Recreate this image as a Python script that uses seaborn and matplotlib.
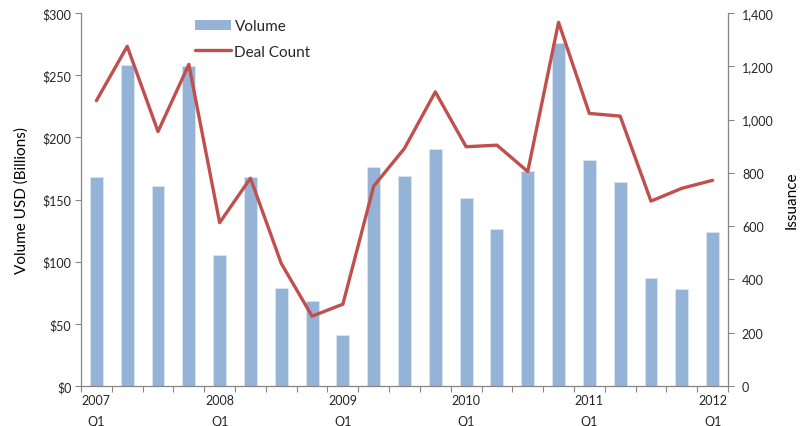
import matplotlib
matplotlib.use("Agg")
import matplotlib.pyplot as plt
import seaborn as sns
import pandas as pd
import numpy as np
from matplotlib.patches import Patch
from matplotlib.lines import Line2D
from matplotlib.ticker import FixedLocator, FuncFormatter

quarters = [f"{y} Q{q}" for y in range(2007, 2012) for q in range(1, 5)] + ["2012 Q1"]
volume = [168, 258, 161, 257, 105, 168, 79, 68, 41, 176, 169, 191, 151, 126,
          173, 276, 182, 164, 87, 78, 124]
deal_count = [1071, 1275, 955, 1207, 613, 780, 460, 262, 307, 750, 892, 1104, 898, 904,
              805, 1365, 1023, 1013, 694, 742, 772]
year_labels = ["2007\nQ1", "2008\nQ1", "2009\nQ1", "2010\nQ1", "2011\nQ1", "2012\nQ1"]

df = pd.DataFrame({"quarter": quarters, "volume": volume, "deals": deal_count,
                   "pos": np.arange(len(quarters))})

sns.set_theme(style="white")
plt.rcParams["font.family"] = ["Lato", "DejaVu Sans"]

bar_color = "#95B3D7"
line_color = "#C0504D"
spine_color = "#868686"

fig = plt.figure(figsize=(8.01, 4.27), dpi=100)
ax = fig.add_axes([81 / 801, 1 - 387 / 427, (728 - 81) / 801, (387 - 14) / 427])

sns.barplot(data=df, x="quarter", y="volume", color=bar_color, width=0.42,
            saturation=1, edgecolor="#dce6f2", linewidth=0.6, ax=ax)
ax.set_xlim(-0.5, len(quarters) - 0.5)
ax.set_ylim(0, 300)
ax.set_yticks(range(0, 301, 50))
ax.yaxis.set_major_formatter(FuncFormatter(lambda v, p: f"${int(v)}"))
ax.set_ylabel("Volume USD (Billions)", fontsize=11, color="#000000", labelpad=10)
ax.set_xlabel("")

ax2 = ax.twinx()
sns.lineplot(data=df, x="pos", y="deals", color=line_color, linewidth=2.4, ax=ax2)
ax2.set_ylim(0, 1400)
ax2.set_yticks(range(0, 1401, 200))
ax2.yaxis.set_major_formatter(FuncFormatter(lambda v, p: f"{int(v):,}"))
ax2.set_ylabel("Issuance", fontsize=11, color="#000000", labelpad=8)
ax2.set_xlabel("")
ax2.set_xlim(-0.5, len(quarters) - 0.5)

# x ticks
ax.set_xticks([0, 4, 8, 12, 16, 20])
ax.set_xticklabels(year_labels, fontsize=9, linespacing=1.9)
ax.xaxis.set_minor_locator(FixedLocator(np.arange(-0.5, len(quarters), 1.0)))
ax.tick_params(axis="x", which="major", length=0, pad=6)
ax.tick_params(axis="x", which="minor", length=4, color=spine_color, width=0.8, direction="out", bottom=True)
ax.tick_params(axis="y", which="major", length=4, color=spine_color, width=0.8, direction="out",
               left=True, labelsize=9, pad=3)
ax2.tick_params(axis="y", which="major", length=4, color=spine_color, width=0.8, direction="out",
                right=True, labelsize=9, pad=6)

for a in (ax, ax2):
    a.spines["top"].set_visible(False)
    for s in ("left", "right", "bottom"):
        a.spines[s].set_color(spine_color)
        a.spines[s].set_linewidth(0.9)
    a.grid(False)
ax.spines["right"].set_visible(False)
ax2.spines["left"].set_visible(False)
ax2.spines["bottom"].set_visible(False)

handles = [Patch(facecolor=bar_color, edgecolor="none"),
           Line2D([0], [0], color=line_color, linewidth=2.4)]
ax.legend(handles, ["Volume", "Deal Count"], loc="upper left",
          bbox_to_anchor=((181 - 81) / 647, 1.02), frameon=False, fontsize=11,
          handlelength=2.4, handleheight=0.7, handletextpad=0.2, labelspacing=0.75)

fig.savefig("out.png", dpi=100)
